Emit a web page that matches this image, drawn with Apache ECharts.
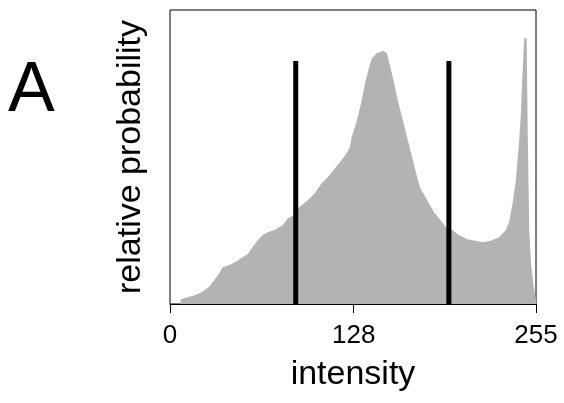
<!DOCTYPE html>
<html>
<head>
<meta charset="utf-8">
<script src="https://cdn.jsdelivr.net/npm/echarts@6/dist/echarts.min.js"></script>
<style>
html,body{margin:0;padding:0;background:#fff;}
#chart{width:564px;height:403px;}
</style>
</head>
<body>
<div id="chart"></div>
<script>
// intensity bins (x) and relative probability (arbitrary units)
const intensity = [7.0,7.5,13.3,18.0,22.6,27.3,30.8,34.3,36.7,41.3,46.0,49.5,54.2,57.7,61.2,64.7,68.2,74.0,78.7,82.2,85.2,90.4,96.2,100.9,105.6,110.2,114.9,119.6,123.1,125.4,126.6,128.9,131.2,133.6,135.9,138.2,140.6,144.1,148.7,151.1,153.4,155.7,158.1,161.6,165.1,168.6,172.1,174.4,175.6,177.9,179.1,183.7,188.4,191.9,196.6,201.3,207.2,213.0,217.7,223.5,229.3,234.0,236.3,238.7,241.0,243.3,244.5,245.7,246.8,248.5,249.2,250.3,251.5,253.1,254.5,255];
const probability = [0,4.7,7.3,9,12.3,17.3,24,30.7,36.7,39,42.3,45.7,50,57.3,64,69,71.7,74.7,79,85.7,88,97.3,104,110.7,120.7,127.3,135.7,144,150.7,157.3,167.3,177.3,189,204,220.7,234,245.7,250.7,253.3,250.7,237.3,224,207.3,187.3,167.3,147.3,127.3,115.7,114,107.3,104,92.3,84,77.3,74,69,64.7,63.3,61.7,63.3,66.7,74,82.3,100.7,124,164,190.7,234,265.7,265.7,174,74,40.7,20.7,7.3,5];
const thresholds = [87.6, 194.3];
const thresholdHeight = 243;
const xTicks = [0, 128, 255];
const yMax = 294;

const FONT = "'Liberation Sans', Arial, sans-serif";
const chart = echarts.init(document.getElementById('chart'), null, {renderer: 'canvas'});

const series = [{
  type: 'line',
  data: intensity.map((x, i) => [x, probability[i]]),
  symbol: 'none',
  lineStyle: {width: 0, color: '#b3b3b3'},
  areaStyle: {color: '#b3b3b3', opacity: 1},
  silent: true,
  z: 2
}];
thresholds.forEach(t => {
  series.push({
    type: 'line',
    data: [[t, 0], [t, thresholdHeight]],
    symbol: 'none',
    lineStyle: {width: 5, color: '#000'},
    silent: true,
    z: 3
  });
});

chart.setOption({
  animation: false,
  backgroundColor: '#fff',
  grid: {left: 170, right: 28, top: 10, bottom: 99, show: true, borderColor: '#000', borderWidth: 1, backgroundColor: 'transparent'},
  xAxis: {
    type: 'value', min: 0, max: 255,
    name: 'intensity', nameLocation: 'middle', nameGap: 54,
    nameTextStyle: {fontFamily: FONT, fontSize: 34, color: '#000'},
    axisLine: {show: true, lineStyle: {color: '#000', width: 1}},
    axisTick: {show: true, length: 9, lineStyle: {color: '#000', width: 1}, customValues: xTicks},
    axisLabel: {show: true, margin: 19, fontFamily: FONT, fontSize: 26, color: '#000', customValues: xTicks},
    splitLine: {show: false}
  },
  yAxis: {
    type: 'value', min: 0, max: yMax,
    name: 'relative probability', nameLocation: 'middle', nameGap: 22, nameRotate: 90,
    nameTextStyle: {fontFamily: FONT, fontSize: 34, color: '#000'},
    axisLine: {show: false}, axisTick: {show: false}, axisLabel: {show: false}, splitLine: {show: false}
  },
  graphic: [{
    type: 'text', left: 8, top: 57,
    style: {text: 'A', fontFamily: FONT, fontSize: 70, fill: '#000'}
  }],
  series: series
});
</script>
</body>
</html>
